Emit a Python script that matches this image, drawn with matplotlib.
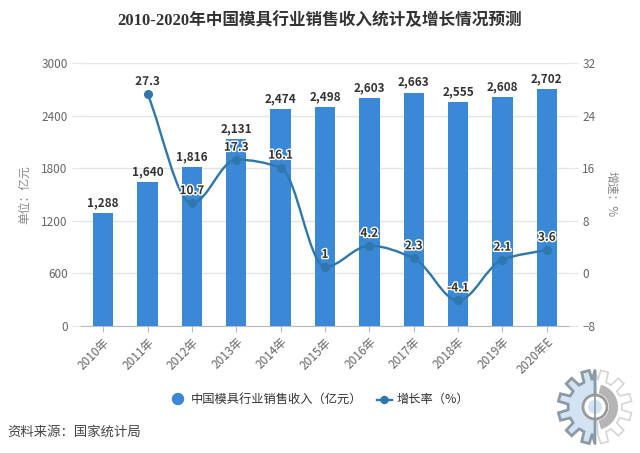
import matplotlib
matplotlib.use('Agg')
import matplotlib.pyplot as plt
import numpy as np
from matplotlib.path import Path
from matplotlib.patches import PathPatch, Circle, Wedge, Polygon
import matplotlib.patheffects as pe

plt.rcParams['font.family'] = ['Noto Sans CJK SC', 'DejaVu Sans']

years = ['2010年', '2011年', '2012年', '2013年', '2014年', '2015年',
         '2016年', '2017年', '2018年', '2019年', '2020年E']
income = [1288, 1640, 1816, 2131, 2474, 2498, 2603, 2663, 2555, 2608, 2702]
growth_years = [1, 2, 3, 4, 5, 6, 7, 8, 9, 10]
growth = [27.3, 10.7, 17.3, 16.1, 1, 4.2, 2.3, -4.1, 2.1, 3.6]
growth_labels = ['27.3', '10.7', '17.3', '16.1', '1', '4.2', '2.3', '-4.1', '2.1', '3.6']

W, H = 640, 453
BLUE = '#3a88d6'
LINE = '#2f78ad'
GRID = '#e4e4e4'
TXT = '#666666'

fig = plt.figure(figsize=(6.4, 4.53), dpi=100)
ax = fig.add_axes([81 / W, 1 - 326 / H, 488 / W, 263 / H])
ax2 = ax.twinx()

# 柱状图
ax.bar(range(11), income, width=0.46, color=BLUE, zorder=3)
ax.set_xlim(-0.5, 10.5)
ax.set_ylim(0, 3000)
ax.set_yticks(range(0, 3001, 600))
ax.set_xticks(range(11))
ax.set_xticklabels(years, rotation=45, ha='right', rotation_mode='anchor', fontsize=8.5, color=TXT)
ax.yaxis.grid(True, color=GRID, lw=1, zorder=0)
ax.set_axisbelow(True)
ax.tick_params(axis='x', length=4, color='#bbbbbb', pad=3)
ax.tick_params(axis='y', length=6.5, color=GRID, labelsize=8.5, labelcolor=TXT, pad=3)
for s in ['top', 'left', 'right']:
    ax.spines[s].set_visible(False)
ax.spines['bottom'].set_color('#bbbbbb')

for i, v in enumerate(income):
    ax.text(i, v + 45, f'{v:,}', ha='center', va='bottom', fontsize=8.5,
            fontweight='bold', color='#333333', zorder=6)

# 增长率曲线 (单调贝塞尔平滑)
ax2.set_ylim(-8, 32)
ax2.set_yticks(range(-8, 33, 8))
ax2.tick_params(axis='y', length=6.5, color=GRID, labelsize=8.5, labelcolor=TXT, pad=3)
for s in ax2.spines.values():
    s.set_visible(False)

xs = np.array(growth_years, dtype=float)
ys = np.array(growth, dtype=float)
secants = np.diff(ys)
slopes = [secants[0]]
for a, b in zip(secants[:-1], secants[1:]):
    slopes.append(0.0 if a * b <= 0 else 2 * a * b / (a + b))
slopes.append(secants[-1])
verts = [(xs[0], ys[0])]
codes = [Path.MOVETO]
for i in range(len(xs) - 1):
    verts.append((xs[i] + 0.35, ys[i] + 0.35 * slopes[i]))
    verts.append((xs[i + 1] - 0.35, ys[i + 1] - 0.35 * slopes[i + 1]))
    verts.append((xs[i + 1], ys[i + 1]))
    codes += [Path.CURVE4, Path.CURVE4, Path.CURVE4]
ax2.add_patch(PathPatch(Path(verts, codes), fill=False, edgecolor=LINE, lw=1.7, zorder=4))
ax2.plot(xs, ys, ls='none', marker='o', ms=5.5, color=LINE, zorder=5)

for x, y, s in zip(growth_years, growth, growth_labels):
    ax2.text(x, y + 0.9, s, ha='center', va='bottom', fontsize=8.5, fontweight='bold',
             color='#333333', zorder=7,
             path_effects=[pe.withStroke(linewidth=2, foreground='white')])

# 标题 / 轴标题 / 来源
fig.text(320 / W, 1 - 21 / H, '2010-2020年中国模具行业销售收入统计及增长情况预测', ha='center', va='center',
         fontsize=12, fontweight='bold', color='#333333',
         family=['Liberation Serif', 'Noto Sans CJK SC'])
fig.text(25 / W, 1 - 195 / H, '单位：亿元', rotation=90, ha='center', va='center', fontsize=8.5, color='#888888')
fig.text(611 / W, 1 - 194 / H, '增速：%', rotation=270, ha='center', va='center', fontsize=8.5, color='#888888')
fig.text(7 / W, 1 - 432 / H, '资料来源：国家统计局', ha='left', va='center', fontsize=9.6, color='#444444')

# 图例
fig.add_artist(Circle((178, H - 399), 5.5, color=BLUE, transform=None))
fig.text(191 / W, 1 - 399 / H, '中国模具行业销售收入（亿元）', ha='left', va='center', fontsize=8.8, color='#333333')
fig.add_artist(plt.Line2D([377, 392], [H - 400, H - 400], color=LINE, lw=1.7, transform=None))
fig.add_artist(Circle((384.5, H - 400), 3.5, color=LINE, transform=None))
fig.text(397 / W, 1 - 399 / H, '增长率（%）', ha='left', va='center', fontsize=8.8, color='#333333')

# 右下角水印 (齿轮)
cx, cy = 595, H - 407
gear_right = []
gear_left = []
for k in range(12):
    a = k * 30 + 15
    for r, d in [(27, -9), (37, -6), (37, 6), (27, 9)]:
        t = np.deg2rad(a + d)
        p = (cx + r * np.cos(t), cy + r * np.sin(t))
        if p[0] >= cx:
            gear_right.append(p)
        else:
            gear_left.append(p)
gear_right.sort(key=lambda p: np.arctan2(p[1] - cy, p[0] - cx))
gear_left.sort(key=lambda p: np.arctan2(p[1] - cy, p[0] - cx) % (2 * np.pi))
fig.add_artist(Polygon(gear_right + [(cx, cy + 37)], closed=True, facecolor='white',
                       edgecolor='#d5d5d5', lw=1.2, transform=None))
fig.add_artist(Polygon([(cx, cy + 37)] + gear_left + [(cx, cy - 37)], closed=True, facecolor='#d3e3f3',
                       edgecolor='#8c9aa6', lw=2, transform=None))
fig.add_artist(Wedge((cx, cy), 23, 285, 75, width=9, facecolor='#b5b5b5', edgecolor='none', transform=None))
fig.add_artist(Circle((cx, cy), 12, facecolor='white', edgecolor='#9a9a9a', lw=2, transform=None))
fig.add_artist(Circle((cx, cy), 7, facecolor='#d3e3f3', edgecolor='none', transform=None))
fig.add_artist(plt.Line2D([cx, cx], [cy - 37, cy + 37], color='#8c9aa6', lw=1.2, transform=None))

fig.savefig('out.png', dpi=100)
plt.close(fig)
